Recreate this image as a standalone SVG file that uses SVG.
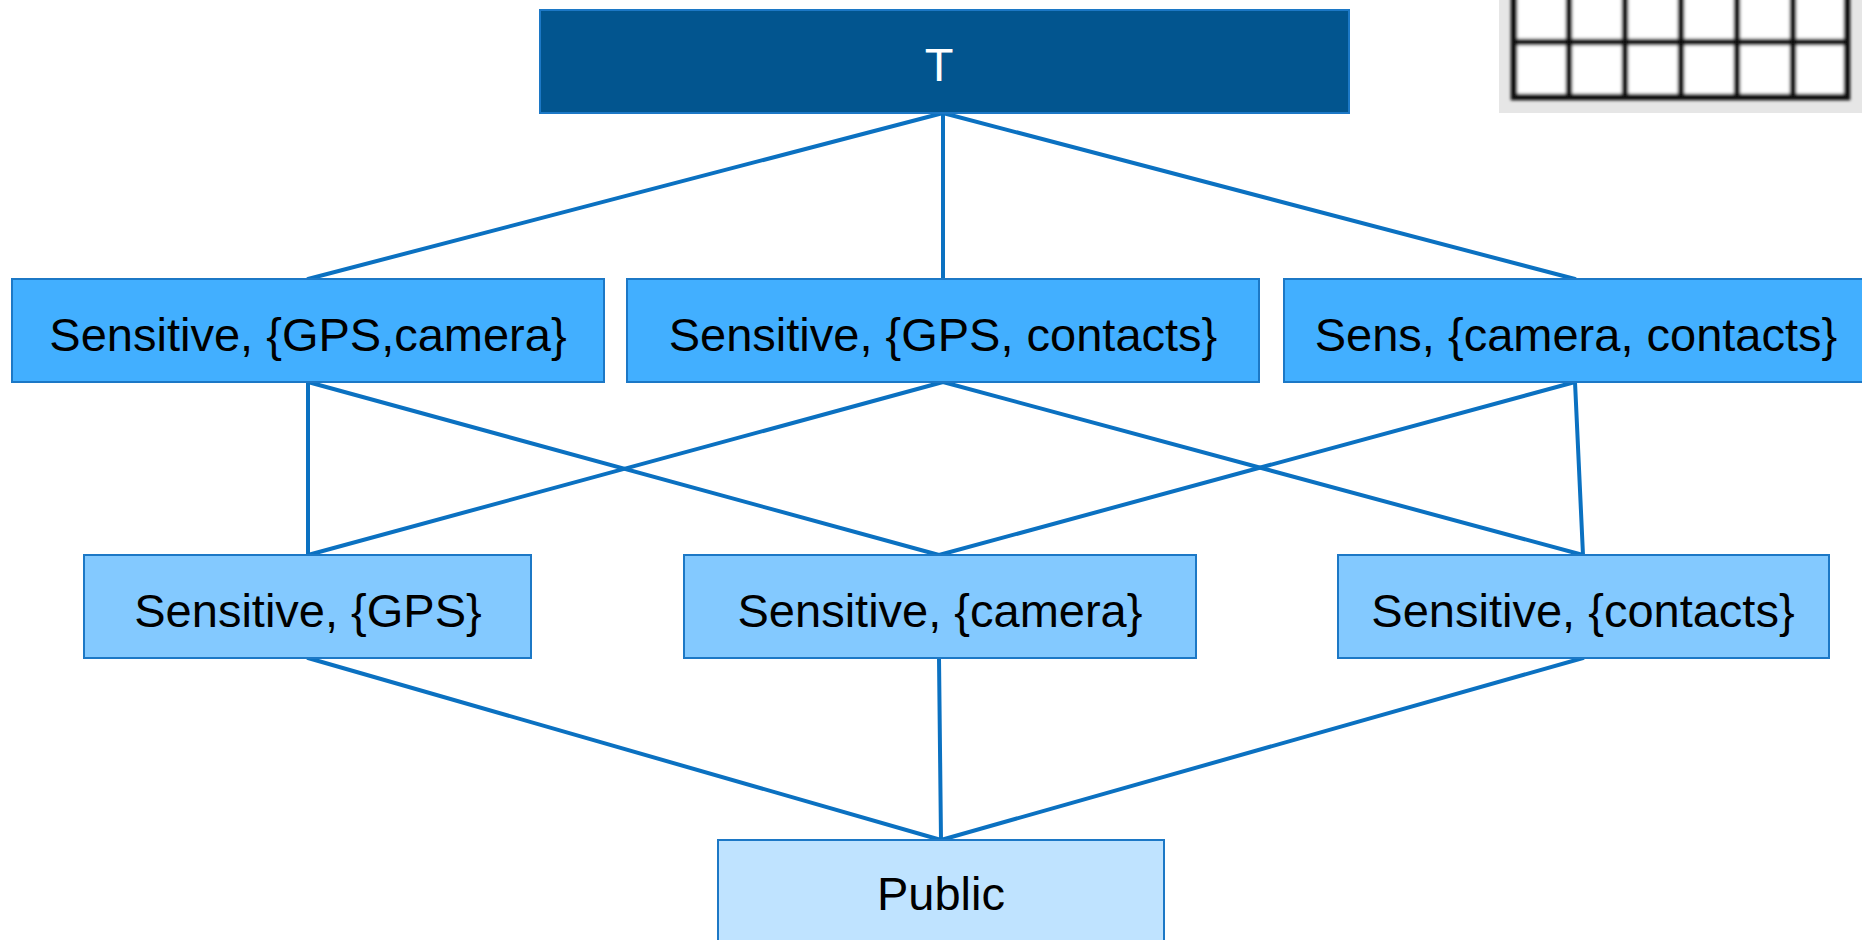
<svg xmlns="http://www.w3.org/2000/svg" width="1862" height="940" viewBox="0 0 1862 940">
  <style>
    .box { stroke: #1C78C6; stroke-width: 2; }
    .top { fill: #02558F; }
    .lvl1 { fill: #42AFFF; }
    .lvl2 { fill: #83C9FF; }
    .pub { fill: #BFE3FF; }
    .lbl { font-family: "Liberation Sans", Arial, sans-serif; font-size: 47px; text-anchor: middle; fill: #000; }
    .lbl-w { fill: #FFFFFF; }
    .edge { stroke: #0B71C1; stroke-width: 4; fill: none; stroke-linecap: round; }
    .grid { stroke: #111; stroke-width: 6.5; fill: none; }
  </style>
  <defs>
    <filter id="soft" x="-5%" y="-20%" width="110%" height="140%">
      <feGaussianBlur stdDeviation="1.8"/>
    </filter>
  </defs>

  <rect x="0" y="0" width="1862" height="940" fill="#FFFFFF"/>

  <!-- small grid thumbnail, top right -->
  <g id="thumb">
    <rect x="1499" y="0" width="363" height="113" fill="#E6E6E6"/>
    <g filter="url(#soft)">
      <rect x="1514" y="-20" width="333" height="117" fill="#FFFFFF"/>
      <path class="grid" d="M1514,-20 V97 H1847 V-20 M1514,42 H1847 M1569,-20 V97 M1625,-20 V97 M1681,-20 V97 M1737,-20 V97 M1793,-20 V97"/>
    </g>
  </g>

  <!-- lattice edges -->
  <g id="connectors">
    <line class="edge" x1="943" y1="113" x2="308" y2="279"/>
    <line class="edge" x1="943" y1="113" x2="943" y2="279"/>
    <line class="edge" x1="943" y1="113" x2="1575" y2="279"/>
    <line class="edge" x1="308" y1="382" x2="308" y2="555"/>
    <line class="edge" x1="308" y1="382" x2="939" y2="555"/>
    <line class="edge" x1="943" y1="382" x2="308" y2="555"/>
    <line class="edge" x1="943" y1="382" x2="1583" y2="555"/>
    <line class="edge" x1="1575" y1="382" x2="939" y2="555"/>
    <line class="edge" x1="1575" y1="382" x2="1583" y2="555"/>
    <line class="edge" x1="308" y1="658" x2="941" y2="840"/>
    <line class="edge" x1="939" y1="658" x2="941" y2="840"/>
    <line class="edge" x1="1583" y1="658" x2="941" y2="840"/>
  </g>

  <g id="node-top">
    <rect class="box top" x="540" y="10" width="809" height="103"/>
    <text class="lbl lbl-w" x="939" y="81">T</text>
  </g>

  <g id="node-gps-camera">
    <rect class="box lvl1" x="12" y="279" width="592" height="103"/>
    <text class="lbl" x="308" y="351">Sensitive, {GPS,camera}</text>
  </g>
  <g id="node-gps-contacts">
    <rect class="box lvl1" x="627" y="279" width="632" height="103"/>
    <text class="lbl" x="943" y="351">Sensitive, {GPS, contacts}</text>
  </g>
  <g id="node-camera-contacts">
    <rect class="box lvl1" x="1284" y="279" width="590" height="103"/>
    <text class="lbl" x="1576" y="351">Sens, {camera, contacts}</text>
  </g>

  <g id="node-gps">
    <rect class="box lvl2" x="84" y="555" width="447" height="103"/>
    <text class="lbl" x="308" y="627">Sensitive, {GPS}</text>
  </g>
  <g id="node-camera">
    <rect class="box lvl2" x="684" y="555" width="512" height="103"/>
    <text class="lbl" x="940" y="627">Sensitive, {camera}</text>
  </g>
  <g id="node-contacts">
    <rect class="box lvl2" x="1338" y="555" width="491" height="103"/>
    <text class="lbl" x="1583" y="627">Sensitive, {contacts}</text>
  </g>

  <g id="node-public">
    <rect class="box pub" x="718" y="840" width="446" height="110"/>
    <text class="lbl" x="941" y="910">Public</text>
  </g>
</svg>
